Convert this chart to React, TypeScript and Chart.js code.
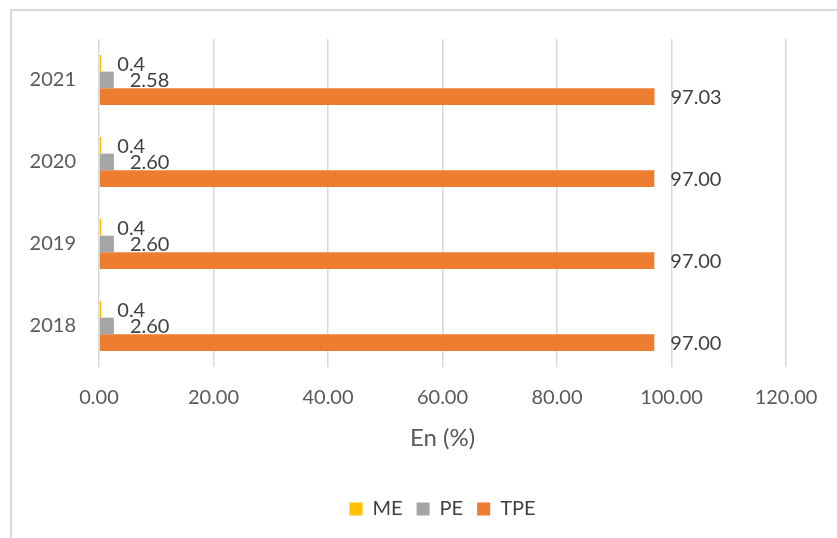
import React, { useEffect, useRef } from 'react';
import { Chart, registerables } from 'chart.js';

Chart.register(...registerables);

const categories = ['2021', '2020', '2019', '2018'];
const seriesNames = ['ME', 'PE', 'TPE'];
const meValues = [0.4, 0.4, 0.4, 0.4];
const peValues = [2.58, 2.6, 2.6, 2.6];
const tpeValues = [97.03, 97.0, 97.0, 97.0];
const labelDecimals = [1, 2, 2];
const seriesColors = ['#FFC000', '#A5A5A5', '#ED7D31'];
const xMin = 0;
const xMax = 120;
const xStep = 20;
const xTitle = 'En (%)';

const FONT = 'Lato, "Open Sans", sans-serif';

const valueLabels = {
  id: 'valueLabels',
  afterDatasetsDraw(chart: any) {
    const ctx = chart.ctx;
    ctx.save();
    ctx.font = `20px ${FONT}`;
    ctx.fillStyle = '#404040';
    ctx.textAlign = 'left';
    ctx.textBaseline = 'middle';
    chart.data.datasets.forEach((ds: any, di: number) => {
      const meta = chart.getDatasetMeta(di);
      meta.data.forEach((bar: any, i: number) => {
        const v = Number(ds.data[i]);
        ctx.fillText(v.toFixed(labelDecimals[di]), bar.x + 16, bar.y + 1);
      });
    });
    ctx.restore();
  },
};

export default function App() {
  const ref = useRef<HTMLCanvasElement>(null);
  useEffect(() => {
    if (!ref.current) return;
    const values = [meValues, peValues, tpeValues];
    const chart = new Chart(ref.current, {
      type: 'bar',
      data: {
        labels: categories,
        datasets: seriesNames.map((name, i) => ({
          label: name,
          data: values[i],
          backgroundColor: seriesColors[i],
          borderWidth: 0,
          categoryPercentage: 0.612,
          barPercentage: 1.0,
        })),
      },
      options: {
        indexAxis: 'y',
        responsive: false,
        animation: false,
        layout: { padding: { top: 39, right: 51, left: 0, bottom: 9 } },
        plugins: {
          tooltip: { enabled: false },
          legend: {
            position: 'bottom',
            fullSize: false,
            labels: {
              boxWidth: 13,
              boxHeight: 13,
              padding: 14,
              color: '#404040',
              font: { family: FONT, size: 20 },
            },
          },
        },
        scales: {
          x: {
            min: xMin,
            max: xMax,
            ticks: {
              stepSize: xStep,
              color: '#595959',
              font: { family: FONT, size: 20 },
              padding: 19,
              callback: (v: any) => Number(v).toFixed(2),
            },
            grid: { color: '#d9d9d9', lineWidth: 1.5, drawTicks: false },
            border: { display: false },
            title: {
              display: true,
              text: xTitle,
              color: '#595959',
              font: { family: FONT, size: 24 },
              padding: { top: 0, bottom: 32 },
            },
            afterFit: (s: any) => {
              s.height = 118;
            },
          },
          y: {
            grid: { display: false, drawTicks: false },
            border: { display: false },
            ticks: {
              color: '#595959',
              font: { family: FONT, size: 20 },
              padding: 23,
            },
            afterFit: (s: any) => {
              s.width = 99;
            },
          },
        },
      },
      plugins: [valueLabels],
    } as any);
    return () => chart.destroy();
  }, []);

  return (
    <div style={{ position: 'fixed', left: 0, top: 0, width: 837, height: 538, overflow: 'hidden', background: '#fff' }}>
      <div
        style={{
          position: 'absolute',
          left: 10,
          top: 9,
          width: 900,
          height: 600,
          borderLeft: '2px solid #d9d9d9',
          borderTop: '2px solid #d9d9d9',
        }}
      />
      <canvas ref={ref} width={837} height={538} style={{ position: 'absolute', left: 0, top: 0, display: 'block' }} />
    </div>
  );
}
